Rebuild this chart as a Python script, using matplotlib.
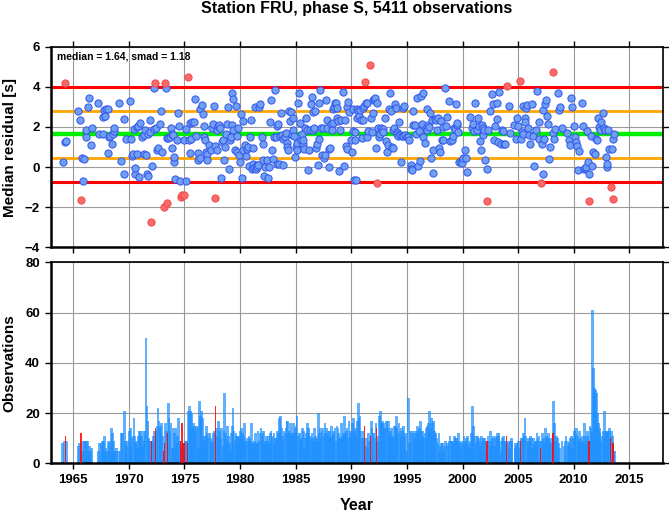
import numpy as np
import matplotlib.pyplot as plt

plt.rcParams['font.family'] = ['Liberation Sans', 'DejaVu Sans']

# summary statistics of the residuals
median = 1.64
smad = 1.18
n_obs = 5411

# monthly median residuals (decimal year, seconds)
med_year = [
    1964.05, 1964.26, 1964.30, 1964.38, 1965.46, 1965.64, 1965.73, 1965.76, 1965.90, 1965.97,
    1966.12, 1966.18, 1966.36, 1966.42, 1966.60, 1966.66, 1967.26, 1967.35, 1967.68, 1967.70,
    1967.80, 1967.89, 1967.98, 1968.10, 1968.16, 1968.25, 1968.34, 1968.49, 1968.55, 1968.64,
    1968.70, 1969.15, 1969.30, 1969.53, 1969.60, 1969.71, 1970.10, 1970.20, 1970.25, 1970.37,
    1970.43, 1970.55, 1970.58, 1970.70, 1970.73, 1970.85, 1970.88, 1971.03, 1971.15, 1971.33,
    1971.36, 1971.45, 1971.57, 1971.63, 1971.69, 1971.75, 1971.87, 1971.93, 1972.02, 1972.11,
    1972.23, 1972.29, 1972.35, 1972.47, 1972.53, 1972.65, 1972.77, 1972.89, 1972.99, 1973.13,
    1973.22, 1973.37, 1973.43, 1973.46, 1973.55, 1973.67, 1973.79, 1973.85, 1973.91, 1973.97,
    1974.06, 1974.09, 1974.18, 1974.30, 1974.39, 1974.48, 1974.57, 1974.66, 1974.81, 1974.93,
    1974.99, 1975.11, 1975.17, 1975.29, 1975.38, 1975.47, 1975.53, 1975.59, 1975.71, 1975.83,
    1975.95, 1976.07, 1976.19, 1976.25, 1976.37, 1976.43, 1976.55, 1976.67, 1976.73, 1976.79,
    1976.85, 1976.94, 1977.00, 1977.06, 1977.24, 1977.36, 1977.45, 1977.60, 1977.66, 1977.75,
    1977.78, 1977.90, 1977.96, 1978.05, 1978.14, 1978.20, 1978.29, 1978.38, 1978.50, 1978.56,
    1978.62, 1978.74, 1978.80, 1978.92, 1978.98, 1979.10, 1979.16, 1979.25, 1979.28, 1979.34,
    1979.40, 1979.52, 1979.64, 1979.70, 1979.76, 1979.82, 1979.88, 1980.00, 1980.06, 1980.15,
    1980.24, 1980.30, 1980.45, 1980.54, 1980.60, 1980.69, 1980.78, 1980.90, 1981.00, 1981.05,
    1981.14, 1981.20, 1981.26, 1981.35, 1981.44, 1981.50, 1981.56, 1981.65, 1981.74, 1981.80,
    1981.98, 1982.04, 1982.10, 1982.16, 1982.28, 1982.40, 1982.49, 1982.58, 1982.70, 1982.76,
    1982.85, 1982.94, 1983.06, 1983.15, 1983.24, 1983.30, 1983.36, 1983.45, 1983.53, 1983.60,
    1983.69, 1983.77, 1983.84, 1983.90, 1984.05, 1984.13, 1984.20, 1984.26, 1984.34, 1984.43,
    1984.50, 1984.55, 1984.64, 1984.73, 1984.80, 1984.88, 1984.95, 1985.03, 1985.10, 1985.15,
    1985.24, 1985.33, 1985.40, 1985.45, 1985.54, 1985.63, 1985.70, 1985.75, 1985.84, 1985.93,
    1986.00, 1986.11, 1986.23, 1986.30, 1986.38, 1986.44, 1986.53, 1986.60, 1986.68, 1986.77,
    1986.83, 1986.90, 1986.98, 1987.07, 1987.13, 1987.19, 1987.25, 1987.37, 1987.50, 1987.55,
    1987.64, 1987.73, 1987.80, 1987.85, 1987.97, 1988.03, 1988.10, 1988.15, 1988.24, 1988.33,
    1988.40, 1988.45, 1988.54, 1988.63, 1988.69, 1988.75, 1988.84, 1988.93, 1989.00, 1989.11,
    1989.23, 1989.35, 1989.44, 1989.53, 1989.60, 1989.65, 1989.74, 1989.83, 1989.95, 1990.04,
    1990.13, 1990.19, 1990.25, 1990.31, 1990.37, 1990.43, 1990.49, 1990.55, 1990.61, 1990.73,
    1990.79, 1990.85, 1990.94, 1991.03, 1991.09, 1991.15, 1991.24, 1991.33, 1991.39, 1991.45,
    1991.54, 1991.69, 1991.75, 1991.84, 1991.93, 1991.99, 1992.08, 1992.14, 1992.23, 1992.29,
    1992.35, 1992.44, 1992.53, 1992.59, 1992.68, 1992.74, 1992.83, 1992.89, 1993.01, 1993.13,
    1993.19, 1993.31, 1993.43, 1993.49, 1993.55, 1993.64, 1993.73, 1993.79, 1993.88, 1993.94,
    1994.03, 1994.09, 1994.15, 1994.24, 1994.33, 1994.39, 1994.45, 1994.54, 1994.63, 1994.69,
    1994.75, 1994.84, 1994.99, 1995.14, 1995.23, 1995.35, 1995.41, 1995.47, 1995.53, 1995.59,
    1995.74, 1995.83, 1995.89, 1996.04, 1996.13, 1996.19, 1996.25, 1996.33, 1996.42, 1996.49,
    1996.63, 1996.73, 1996.78, 1996.85, 1996.93, 1997.02, 1997.08, 1997.14, 1997.23, 1997.32,
    1997.38, 1997.53, 1997.62, 1997.74, 1997.83, 1997.92, 1997.98, 1998.04, 1998.13, 1998.22,
    1998.28, 1998.43, 1998.52, 1998.64, 1998.76, 1998.88, 1999.03, 1999.18, 1999.24, 1999.33,
    1999.42, 1999.48, 1999.54, 1999.63, 1999.72, 1999.84, 1999.93, 2000.08, 2000.23, 2000.32,
    2000.44, 2000.68, 2000.83, 2000.92, 2001.04, 2001.13, 2001.28, 2001.43, 2001.52, 2001.58,
    2001.64, 2001.73, 2001.82, 2001.88, 2001.97, 2002.03, 2002.18, 2002.24, 2002.33, 2002.48,
    2002.63, 2002.78, 2002.84, 2002.96, 2003.08, 2003.14, 2003.23, 2003.32, 2003.44, 2003.53,
    2003.62, 2003.74, 2003.83, 2003.98, 2004.22, 2004.28, 2004.64, 2004.82, 2004.94, 2005.03,
    2005.18, 2005.24, 2005.33, 2005.42, 2005.48, 2005.60, 2005.66, 2005.72, 2005.84, 2005.93,
    2006.02, 2006.08, 2006.23, 2006.32, 2006.44, 2006.62, 2006.74, 2006.86, 2006.92, 2007.04,
    2007.13, 2007.22, 2007.28, 2007.37, 2007.43, 2007.52, 2007.64, 2007.73, 2007.82, 2007.88,
    2008.12, 2008.18, 2008.24, 2008.33, 2008.63, 2008.72, 2008.78, 2008.93, 2009.38, 2009.53,
    2009.62, 2009.74, 2009.83, 2009.98, 2010.12, 2010.21, 2010.27, 2010.36, 2010.45, 2010.72,
    2010.81, 2010.92, 2010.97, 2011.12, 2011.23, 2011.32, 2011.35, 2011.41, 2011.53, 2011.65,
    2011.77, 2011.89, 2012.01, 2012.13, 2012.22, 2012.31, 2012.37, 2012.49, 2012.61, 2012.73,
    2012.82, 2012.91, 2012.97, 2013.03, 2013.12, 2013.21, 2013.33, 2013.42, 2013.51, 2013.57,
    2013.66,
]
med_val = [
    0.23, 1.25, 4.17, 1.32, 2.80, 2.33, -1.63, 0.47, -0.67, 0.38,
    1.50, 1.87, 3.00, 3.42, 1.12, 1.95, 3.17, 1.63, 1.63, 2.50,
    2.83, 2.53, 2.88, 0.70, 2.87, 1.50, 1.53, 1.13, 1.67, 1.80,
    1.97, 3.17, 0.30, 2.40, -0.37, 1.42, 3.30, 1.38, 0.55, 0.67,
    1.92, -0.33, -0.03, 0.67, 2.00, 2.05, -0.47, 2.22, 1.50, 1.62,
    0.67, 1.87, 0.58, -0.37, -0.42, 1.63, 1.77, 2.33, -2.75, 0.03,
    3.93, 1.90, 4.20, 1.97, 0.87, 0.97, 2.17, 2.80, 0.73, -2.00,
    4.20, 3.95, 1.47, -1.77, 1.45, 1.50, 1.97, 1.67, 0.97, 1.60,
    0.23, 0.50, -0.58, 1.33, 2.70, 2.03, -0.70, -1.47, -1.40, -1.37,
    1.33, -0.70, 1.90, 4.50, 1.33, 0.70, 2.20, 1.40, 2.23, 2.25,
    3.40, 1.53, 0.70, 0.37, 0.47, 2.87, 3.08, 2.67, 2.03, 1.50,
    1.33, 0.75, 0.63, 0.37, 1.08, 0.83, 1.97, 2.17, 3.03, 1.03,
    -1.53, 0.83, 1.87, 2.03, 2.08, 1.97, -0.53, 1.25, 1.37, 0.33,
    1.00, 1.63, 2.17, 3.00, -0.08, 1.37, 1.50, 2.08, 3.70, 3.37,
    1.83, 0.87, 3.03, 0.75, 1.53, 1.97, 0.58, 0.25, 2.63, -0.53,
    2.30, 0.87, 1.08, 0.53, 0.92, 1.00, 0.03, 1.50, 2.33, -0.08,
    0.17, 0.97, -0.03, 3.00, -0.08, 0.08, 0.00, 0.08, 3.00, 3.13,
    1.50, 1.13, 0.37, -0.42, 0.00, 0.37, -0.53, 0.00, 2.25, 3.33,
    0.87, 0.42, 1.50, 3.83, 1.50, 2.03, 0.17, 2.17, 0.17, 1.53,
    2.70, 1.58, 0.08, 1.42, 1.50, 1.70, 1.20, 1.00, 0.83, 2.80,
    2.30, 2.75, 1.58, 1.87, 2.47, 1.53, 0.50, 1.00, 1.20, 0.83,
    3.20, 3.67, 2.20, 1.37, 1.67, 1.13, 1.33, 0.92, 1.97, 2.47,
    1.87, -0.17, 0.83, 1.87, 3.13, 3.50, 2.75, 1.83, 1.97, 2.80,
    0.97, 1.13, 0.08, 3.17, 1.42, 3.83, 1.97, 0.58, 1.97, 0.47,
    0.58, 3.33, 2.37, 1.97, 0.00, 0.92, 0.97, 2.17, 1.87, 2.87,
    2.20, 3.00, 3.17, 3.20, 2.92, 2.47, 2.30, -0.20, 1.87, 2.33,
    3.75, 0.03, 2.33, 1.03, 0.92, 3.00, 3.25, 2.75, 1.33, 0.75,
    2.87, 1.80, -0.63, 1.75, 1.37, -0.63, 2.47, 2.87, 2.80, 2.53,
    2.83, 2.37, 1.47, 2.92, 2.37, 3.03, 4.22, 3.17, 1.50, 3.20,
    1.80, 5.08, 2.47, 1.75, 3.33, 2.70, 3.37, 3.42, 0.97, -0.80,
    3.20, 1.97, 1.50, 1.63, 1.97, 1.83, 1.92, 1.75, 2.47, 1.30,
    0.75, 1.08, 2.87, 3.67, 2.80, 1.00, 1.87, 0.97, 1.97, 3.13,
    2.92, 1.75, 1.63, 1.53, 2.25, 1.58, 0.25, 1.53, 1.53, 2.92,
    3.03, 1.58, 1.50, 1.50, 1.37, 0.08, -0.08, -0.17, 2.08, 2.80,
    2.08, 1.63, 3.42, 0.03, 1.80, 0.30, 3.53, 2.17, 1.50, 3.67,
    1.20, 1.97, 1.83, 2.87, 2.08, 2.00, 2.70, 0.47, 2.37, 0.87,
    -0.30, 2.42, 2.33, 1.83, 2.47, 0.97, 0.75, 2.30, 1.33, 1.37,
    2.00, 3.95, 2.03, 2.50, 3.28, 1.30, 1.37, 1.53, 1.97, 1.92,
    3.13, 2.08, 2.20, 1.75, 0.25, 0.25, 0.20, 0.47, 0.87, 0.47,
    -0.25, 2.50, 1.97, 2.17, 1.80, 3.17, 1.87, 2.47, 2.03, 1.30,
    0.83, 2.08, 1.58, 1.97, 1.87, 0.33, -1.70, -0.08, 1.83, 2.80,
    3.63, 3.13, 1.33, 2.03, 2.42, 3.17, 1.25, 3.75, 1.13, 1.87,
    1.80, 1.13, 1.17, 4.05, 3.03, 1.70, 2.08, 1.42, 2.47, 2.03,
    4.27, 1.40, 1.75, 1.67, 3.03, 2.47, 2.25, 2.92, 3.08, 1.97,
    1.58, 1.17, 3.13, 1.53, 0.03, 1.87, 3.80, 2.25, 1.42, -0.80,
    1.13, -0.33, 2.83, 1.42, 3.13, 3.33, 2.53, 2.13, 0.42, 1.00,
    4.75, 1.70, 1.42, 1.92, 3.67, 2.83, 3.00, 1.97, 1.70, 1.33,
    1.08, 3.42, 3.00, 2.03, 1.50, 1.25, 1.03, -0.17, 0.80, 3.17,
    2.03, -0.08, -0.03, 0.00, 1.80, 0.25, -1.70, -0.37, 1.53, 0.03,
    0.75, 0.67, 1.42, 1.33, 2.47, 2.00, 1.87, 2.25, 2.70, 1.97,
    1.87, 0.50, 0.00, 0.13, 1.83, 0.92, -0.97, 0.92, -1.58, 1.42,
    1.67,
]

# number of observations per month, one row per year 1964..2013
first_year = 1964
obs_per_month = [
    [8, 0, 9, 11, 9, 0, 0, 0, 0, 0, 0, 0],
    [0, 0, 0, 0, 0, 7, 8, 0, 12, 5, 9, 5],
    [9, 9, 9, 9, 5, 7, 5, 6, 0, 0, 0, 0],
    [0, 0, 0, 5, 8, 0, 8, 9, 9, 11, 5, 6],
    [5, 9, 8, 5, 9, 14, 12, 9, 5, 5, 6, 0],
    [5, 0, 5, 12, 12, 12, 0, 21, 9, 7, 9, 0],
    [13, 14, 7, 10, 11, 18, 11, 8, 9, 6, 11, 13],
    [13, 11, 7, 13, 9, 13, 50, 23, 17, 10, 9, 9],
    [9, 9, 11, 13, 14, 13, 15, 22, 17, 14, 15, 16],
    [11, 5, 8, 16, 13, 12, 24, 18, 13, 16, 6, 14],
    [6, 12, 14, 8, 11, 18, 9, 9, 6, 16, 8, 8],
    [9, 9, 9, 8, 21, 23, 21, 20, 14, 16, 15, 13],
    [15, 14, 15, 6, 25, 19, 21, 18, 11, 9, 11, 15],
    [12, 10, 12, 12, 10, 9, 8, 12, 13, 23, 14, 11],
    [17, 13, 14, 10, 14, 7, 13, 28, 12, 9, 15, 11],
    [8, 5, 12, 15, 22, 13, 9, 12, 11, 11, 10, 11],
    [13, 14, 12, 11, 16, 9, 9, 10, 9, 11, 10, 9],
    [16, 8, 8, 9, 12, 8, 8, 13, 9, 12, 14, 11],
    [12, 13, 8, 9, 11, 9, 11, 8, 12, 13, 10, 11],
    [12, 8, 10, 10, 13, 12, 18, 19, 14, 11, 9, 13],
    [12, 14, 17, 17, 12, 13, 16, 11, 12, 16, 12, 14],
    [15, 19, 11, 12, 12, 9, 10, 14, 13, 6, 10, 12],
    [16, 14, 12, 10, 11, 12, 9, 10, 14, 11, 9, 10],
    [20, 12, 14, 10, 13, 14, 11, 16, 12, 14, 11, 13],
    [13, 10, 15, 11, 13, 12, 14, 9, 15, 14, 12, 10],
    [10, 16, 11, 12, 19, 12, 13, 14, 10, 17, 11, 13],
    [12, 16, 18, 13, 14, 11, 17, 24, 18, 19, 13, 10],
    [13, 10, 15, 7, 10, 6, 12, 9, 11, 17, 14, 12],
    [12, 10, 16, 14, 11, 9, 19, 21, 16, 17, 16, 14],
    [14, 17, 17, 14, 17, 12, 13, 14, 11, 10, 15, 15],
    [19, 14, 12, 16, 13, 11, 14, 13, 15, 11, 12, 5],
    [0, 26, 8, 13, 13, 12, 13, 12, 10, 13, 12, 15],
    [13, 14, 17, 13, 11, 13, 10, 12, 10, 14, 15, 16],
    [21, 14, 18, 16, 17, 13, 12, 12, 10, 8, 12, 5],
    [7, 8, 8, 5, 7, 9, 0, 8, 7, 9, 11, 9],
    [9, 9, 8, 11, 10, 10, 9, 12, 8, 9, 6, 8],
    [9, 11, 8, 9, 10, 11, 8, 6, 9, 12, 23, 15],
    [10, 11, 8, 11, 11, 9, 10, 7, 11, 9, 10, 10],
    [9, 5, 9, 11, 9, 7, 13, 9, 10, 11, 7, 10],
    [11, 12, 11, 12, 9, 5, 9, 10, 11, 9, 9, 11],
    [8, 9, 6, 9, 10, 9, 0, 0, 6, 8, 7, 8],
    [9, 6, 9, 10, 10, 12, 11, 18, 11, 9, 8, 10],
    [9, 11, 10, 6, 10, 8, 9, 9, 12, 10, 11, 9],
    [6, 9, 12, 10, 8, 14, 11, 10, 12, 10, 9, 8],
    [10, 12, 25, 16, 9, 11, 10, 8, 6, 0, 0, 9],
    [0, 7, 9, 11, 0, 9, 7, 8, 10, 11, 6, 10],
    [13, 14, 12, 14, 11, 9, 13, 10, 9, 11, 8, 16],
    [11, 9, 13, 11, 9, 15, 14, 12, 61, 38, 30, 29],
    [28, 20, 16, 14, 12, 9, 11, 13, 10, 21, 13, 12],
    [13, 13, 14, 10, 13, 11, 8, 5, 5, 0, 0, 0],
]

med_year = np.array(med_year)
med_val = np.array(med_val)
lo2, hi2 = median - 2 * smad, median + 2 * smad
lo1, hi1 = median - smad, median + smad
outlier = (med_val < lo2) | (med_val > hi2)

counts = np.array(obs_per_month).ravel()
bar_x = first_year + (np.arange(counts.size) + 0.5) / 12.0
bad_month = np.zeros(counts.size, dtype=bool)
idx = np.floor((med_year[outlier] - first_year) * 12).astype(int)
bad_month[idx] = True

fig = plt.figure(figsize=(6.69, 5.11), dpi=100)
ax1 = fig.add_axes([0.0762, 0.516, 0.9144, 0.3926])
ax2 = fig.add_axes([0.0762, 0.0933, 0.9144, 0.3933])

# residual panel
ax1.axhline(hi2, color='#ff0000', lw=2.2, zorder=2)
ax1.axhline(lo2, color='#ff0000', lw=2.2, zorder=2)
ax1.axhline(hi1, color='#ffa500', lw=2, zorder=2)
ax1.axhline(lo1, color='#ffa500', lw=2, zorder=2)
ax1.axhline(median, color='#00ee00', lw=3.2, zorder=2)
ax1.scatter(med_year[~outlier], med_val[~outlier], s=27, c='#6f9ff0',
            edgecolors='#3355ee', linewidths=0.7, zorder=3)
ax1.scatter(med_year[outlier], med_val[outlier], s=27, c='#fa6a6a',
            edgecolors='#f04a4a', linewidths=0.7, zorder=3)
ax1.set_xlim(1963, 2018)
ax1.set_ylim(-4, 6)
ax1.set_yticks(np.arange(-4, 7, 2))
ax1.set_ylabel('Median residual [s]', fontsize=11, fontweight='bold')
ax1.text(0.01, 0.975, 'median = %.2f, smad = %.2f' % (median, smad),
         transform=ax1.transAxes, ha='left', va='top', fontsize=7.5,
         fontweight='bold')
ax1.set_title('Station FRU, phase S, %d observations' % n_obs,
              fontsize=11.5, fontweight='bold', pad=24)
ax1.tick_params(labelbottom=False, top=True, right=True)

# observation count panel
ax2.bar(bar_x[~bad_month], counts[~bad_month], width=0.24,
        color='#1e90ff', alpha=0.7, linewidth=0, zorder=2)
ax2.bar(bar_x[bad_month], counts[bad_month], width=0.12,
        color='#ff0000', alpha=0.85, linewidth=0, zorder=3)
ax2.set_xlim(1963, 2018)
ax2.set_ylim(0, 80)
ax2.set_yticks(np.arange(0, 81, 20))
ax2.set_ylabel('Observations', fontsize=11, fontweight='bold')
ax2.set_xlabel('Year', fontsize=11.5, fontweight='bold', labelpad=8)
ax2.tick_params(right=True)

for ax in (ax1, ax2):
    ax.set_xticks(np.arange(1965, 2016, 5))
    ax.grid(color='#9a9a9a', lw=0.8)
    ax.set_axisbelow(True)
    ax.tick_params(direction='out', length=4, width=1, labelsize=9.5, pad=4)
    ax.yaxis.set_label_coords(-0.056, 0.5)
    for lab in ax.get_xticklabels() + ax.get_yticklabels():
        lab.set_fontweight('bold')
    for side in ('left', 'bottom'):
        ax.spines[side].set_linewidth(1.8)
    for side in ('top', 'right'):
        ax.spines[side].set_linewidth(1.2)

fig.savefig('out.png', dpi=100)
